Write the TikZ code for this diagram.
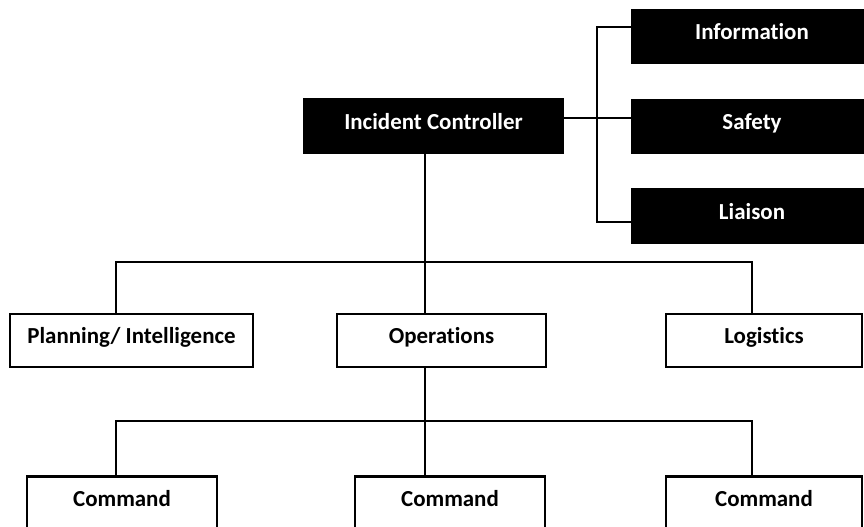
\documentclass[tikz,border=0pt]{standalone}
\usepackage{fontspec}
\setmainfont{Carlito}[Ligatures=NoCommon]
\begin{document}
\begin{tikzpicture}[x=0.75pt,y=-0.75pt,
  orgbox/.style={draw=black, line width=1.8pt, fill=white, text=black,
    minimum height=40pt, inner sep=0pt, text height=12pt, text depth=7pt,
    font=\fontsize{17.2}{20}\selectfont\bfseries},
  staffbox/.style={orgbox, fill=black, text=white},
  link/.style={draw=black, line width=1.4pt}]
\useasboundingbox (0,0) rectangle (864,526);
\clip (0,0) rectangle (864,526);
\fill[white] (0,0) rectangle (864,526);

% staff positions (right column)
\node[staffbox, minimum width=180pt] (info)    at (752,36.5)  {Information};
\node[staffbox, minimum width=180pt] (safety)  at (752,126.5) {Safety};
\node[staffbox, minimum width=180pt] (liaison) at (752,216)   {Liaison};

% head of the structure
\node[staffbox, minimum width=194.25pt] (ic) at (433.5,126) {Incident Controller};

% sections
\node[orgbox, minimum width=182.25pt] (plan) at (131.5,340.5) {Planning/ Intelligence};
\node[orgbox, minimum width=156.75pt] (ops)  at (441.5,340.5) {Operations};
\node[orgbox, minimum width=147pt]    (logi) at (764,340.5)   {Logistics};

% command units
\node[orgbox, minimum width=142.5pt] (cmd1) at (122,503) {Command};
\node[orgbox, minimum width=142.5pt] (cmd2) at (450,503) {Command};
\node[orgbox, minimum width=147pt]   (cmd3) at (764,503) {Command};

% guide coordinates for the connector lines
\coordinate (xL) at (116,0);
\coordinate (xC) at (425,0);
\coordinate (xR) at (752,0);
\coordinate (bt) at (597,27);
\coordinate (bm) at (597,118);
\coordinate (bb) at (597,222);
\coordinate (j1) at (425,262);
\coordinate (j2) at (425,421);

% staff bracket
\draw[link] (info.west |- bt) -- (bt) -- (bb) -- (liaison.west |- bb);
\draw[link] (ic.east |- bm) -- (safety.west |- bm);

% controller to sections
\draw[link] (ic.south -| xC) -- (ops.north -| xC);
\draw[link] (plan.north -| xL) |- (j1) -| (logi.north -| xR);

% operations to command units
\draw[link] (ops.south -| xC) -- (cmd2.north -| xC);
\draw[link] (cmd1.north -| xL) |- (j2) -| (cmd3.north -| xR);
\end{tikzpicture}
\end{document}
